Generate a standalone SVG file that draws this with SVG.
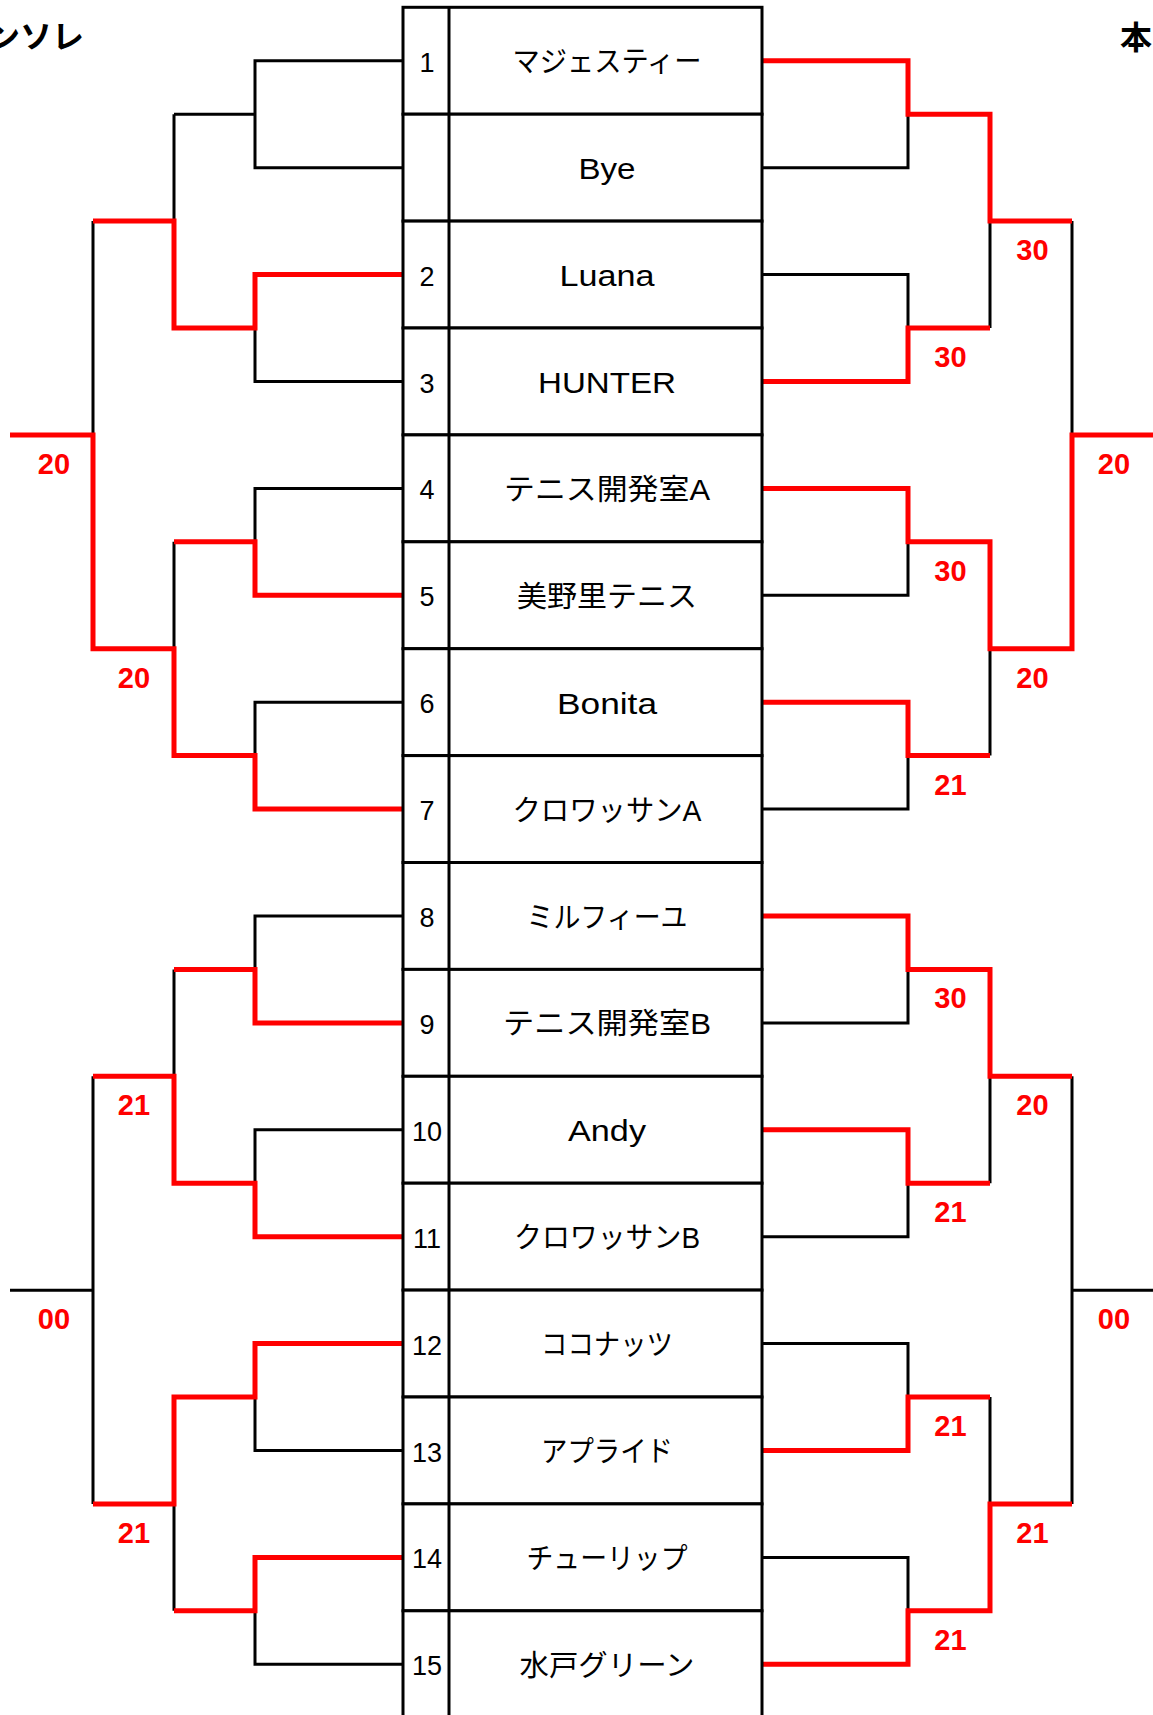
<svg xmlns="http://www.w3.org/2000/svg" width="1153" height="1715" viewBox="0 0 1153 1715">
<style>
.bg{fill:#fff}
.cell{fill:#fff;stroke:#000;stroke-width:3}
.div{stroke:#000;stroke-width:3}
.num{font-family:"Liberation Sans","Noto Sans CJK JP",sans-serif;font-size:27px;fill:#000;text-anchor:middle}
.name{font-family:"Liberation Sans","Noto Sans CJK JP",sans-serif;font-size:29px;fill:#000;text-anchor:middle}
.blk{fill:none;stroke:#000;stroke-width:3}
.red{fill:none;stroke:#f00;stroke-width:5;stroke-linejoin:miter}
.score{font-family:"Liberation Sans",sans-serif;font-weight:bold;font-size:29px;fill:#f00;text-anchor:middle}
.title{font-family:"Noto Sans CJK JP",sans-serif;font-weight:bold;font-size:32px;fill:#000}
</style>
<rect class="bg" x="0" y="0" width="1153" height="1715"/>
<text class="title" x="84" y="48" text-anchor="end">ンソレ</text>
<text class="title" x="1120" y="49">本</text>

<g id="connectors">
<path class="blk" d="M403 60.8H255V167.7H403M255 114.2H174M403 274.6H255V381.5H403M255 328H174M403 488.4H255V595.3H403M255 541.8H174M403 702.2H255V809.1H403M255 755.6H174M403 916H255V1022.9H403M255 969.4H174M403 1129.8H255V1236.7H403M255 1183.2H174M403 1343.6H255V1450.5H403M255 1397H174M403 1557.4H255V1664.3H403M255 1610.8H174M174 114.2V328M174 221.1H93M174 541.8V755.6M174 648.7H93M174 969.4V1183.2M174 1076.3H93M174 1397V1610.8M174 1503.9H93M93 221.1V648.7M93 434.9H10M93 1076.3V1503.9M93 1290.2H10"/>
<path class="blk" d="M762 60.8H908V167.7H762M908 114.2H990M762 274.6H908V381.5H762M908 328H990M762 488.4H908V595.3H762M908 541.8H990M762 702.2H908V809.1H762M908 755.6H990M762 916H908V1022.9H762M908 969.4H990M762 1129.8H908V1236.7H762M908 1183.2H990M762 1343.6H908V1450.5H762M908 1397H990M762 1557.4H908V1664.3H762M908 1610.8H990M990 114.2V328M990 221.1H1072M990 541.8V755.6M990 648.7H1072M990 969.4V1183.2M990 1076.3H1072M990 1397V1610.8M990 1503.9H1072M1072 221.1V648.7M1072 434.9H1153M1072 1076.3V1503.9M1072 1290.2H1153"/>
<path class="red" d="M403 274.6H255V328H174V221.1H93"/>
<path class="red" d="M403 595.3H255V541.8H174"/>
<path class="red" d="M403 809.1H255V755.6H174V648.7H93V434.9H10"/>
<path class="red" d="M403 1022.9H255V969.4H174"/>
<path class="red" d="M403 1236.7H255V1183.2H174V1076.3H93"/>
<path class="red" d="M403 1343.6H255V1397H174V1503.9H93"/>
<path class="red" d="M403 1557.4H255V1610.8H174"/>
<path class="red" d="M762 60.8H908V114.2H990V221.1H1072"/>
<path class="red" d="M762 381.5H908V328H990"/>
<path class="red" d="M762 488.4H908V541.8H990V648.7H1072V434.9H1153"/>
<path class="red" d="M762 702.2H908V755.6H990"/>
<path class="red" d="M762 916H908V969.4H990V1076.3H1072"/>
<path class="red" d="M762 1129.8H908V1183.2H990"/>
<path class="red" d="M762 1450.5H908V1397H990"/>
<path class="red" d="M762 1664.3H908V1610.8H990V1503.9H1072"/>
</g>

<g id="scores">
<text class="score" x="54" y="473.9">20</text>
<text class="score" x="134" y="687.7">20</text>
<text class="score" x="134" y="1115.3">21</text>
<text class="score" x="54" y="1329.2">00</text>
<text class="score" x="134" y="1542.9">21</text>
<text class="score" x="1032.5" y="260.1">30</text>
<text class="score" x="950.5" y="367">30</text>
<text class="score" x="1114" y="473.9">20</text>
<text class="score" x="950.5" y="580.8">30</text>
<text class="score" x="1032.5" y="687.7">20</text>
<text class="score" x="950.5" y="794.6">21</text>
<text class="score" x="950.5" y="1008.4">30</text>
<text class="score" x="1032.5" y="1115.3">20</text>
<text class="score" x="950.5" y="1222.2">21</text>
<text class="score" x="1114" y="1329.2">00</text>
<text class="score" x="950.5" y="1436">21</text>
<text class="score" x="1032.5" y="1542.9">21</text>
<text class="score" x="950.5" y="1649.8">21</text>
</g>

<g id="teams">
<g id="team-r0"><rect class="cell" x="403" y="7.3" width="359" height="106.9"/><line class="div" x1="449" y1="7.3" x2="449" y2="114.2"/><text class="num" x="427" y="71.8">1</text><text class="name" x="607" y="72.3" textLength="189" lengthAdjust="spacingAndGlyphs">マジェスティー</text></g>
<g id="team-r1"><rect class="cell" x="403" y="114.2" width="359" height="106.9"/><line class="div" x1="449" y1="114.2" x2="449" y2="221.1"/><text class="name" x="607" y="179.2" textLength="57" lengthAdjust="spacingAndGlyphs">Bye</text></g>
<g id="team-r2"><rect class="cell" x="403" y="221.1" width="359" height="106.9"/><line class="div" x1="449" y1="221.1" x2="449" y2="328"/><text class="num" x="427" y="285.6">2</text><text class="name" x="607" y="286.1" textLength="95" lengthAdjust="spacingAndGlyphs">Luana</text></g>
<g id="team-r3"><rect class="cell" x="403" y="328" width="359" height="106.9"/><line class="div" x1="449" y1="328" x2="449" y2="434.9"/><text class="num" x="427" y="392.5">3</text><text class="name" x="607" y="393" textLength="138" lengthAdjust="spacingAndGlyphs">HUNTER</text></g>
<g id="team-r4"><rect class="cell" x="403" y="434.9" width="359" height="106.9"/><line class="div" x1="449" y1="434.9" x2="449" y2="541.8"/><text class="num" x="427" y="499.4">4</text><text class="name" x="607" y="499.9" textLength="206" lengthAdjust="spacingAndGlyphs">テニス開発室A</text></g>
<g id="team-r5"><rect class="cell" x="403" y="541.8" width="359" height="106.9"/><line class="div" x1="449" y1="541.8" x2="449" y2="648.7"/><text class="num" x="427" y="606.3">5</text><text class="name" x="607" y="606.8" textLength="180" lengthAdjust="spacingAndGlyphs">美野里テニス</text></g>
<g id="team-r6"><rect class="cell" x="403" y="648.7" width="359" height="106.9"/><line class="div" x1="449" y1="648.7" x2="449" y2="755.6"/><text class="num" x="427" y="713.2">6</text><text class="name" x="607" y="713.7" textLength="100" lengthAdjust="spacingAndGlyphs">Bonita</text></g>
<g id="team-r7"><rect class="cell" x="403" y="755.6" width="359" height="106.9"/><line class="div" x1="449" y1="755.6" x2="449" y2="862.5"/><text class="num" x="427" y="820.1">7</text><text class="name" x="607" y="820.6" textLength="189" lengthAdjust="spacingAndGlyphs">クロワッサンA</text></g>
<g id="team-r8"><rect class="cell" x="403" y="862.5" width="359" height="106.9"/><line class="div" x1="449" y1="862.5" x2="449" y2="969.4"/><text class="num" x="427" y="927">8</text><text class="name" x="607" y="927.5" textLength="161" lengthAdjust="spacingAndGlyphs">ミルフィーユ</text></g>
<g id="team-r9"><rect class="cell" x="403" y="969.4" width="359" height="106.9"/><line class="div" x1="449" y1="969.4" x2="449" y2="1076.3"/><text class="num" x="427" y="1033.9">9</text><text class="name" x="607" y="1034.4" textLength="208" lengthAdjust="spacingAndGlyphs">テニス開発室B</text></g>
<g id="team-r10"><rect class="cell" x="403" y="1076.3" width="359" height="106.9"/><line class="div" x1="449" y1="1076.3" x2="449" y2="1183.2"/><text class="num" x="427" y="1140.8">10</text><text class="name" x="607" y="1141.3" textLength="78" lengthAdjust="spacingAndGlyphs">Andy</text></g>
<g id="team-r11"><rect class="cell" x="403" y="1183.2" width="359" height="106.9"/><line class="div" x1="449" y1="1183.2" x2="449" y2="1290.1"/><text class="num" x="427" y="1247.7">11</text><text class="name" x="607" y="1248.2" textLength="186" lengthAdjust="spacingAndGlyphs">クロワッサンB</text></g>
<g id="team-r12"><rect class="cell" x="403" y="1290.1" width="359" height="106.9"/><line class="div" x1="449" y1="1290.1" x2="449" y2="1397"/><text class="num" x="427" y="1354.6">12</text><text class="name" x="607" y="1355.1" textLength="132" lengthAdjust="spacingAndGlyphs">ココナッツ</text></g>
<g id="team-r13"><rect class="cell" x="403" y="1397" width="359" height="106.9"/><line class="div" x1="449" y1="1397" x2="449" y2="1503.9"/><text class="num" x="427" y="1461.5">13</text><text class="name" x="607" y="1462" textLength="132" lengthAdjust="spacingAndGlyphs">アプライド</text></g>
<g id="team-r14"><rect class="cell" x="403" y="1503.9" width="359" height="106.9"/><line class="div" x1="449" y1="1503.9" x2="449" y2="1610.8"/><text class="num" x="427" y="1568.4">14</text><text class="name" x="607" y="1568.9" textLength="161" lengthAdjust="spacingAndGlyphs">チューリップ</text></g>
<g id="team-r15"><rect class="cell" x="403" y="1610.8" width="359" height="112"/><line class="div" x1="449" y1="1610.8" x2="449" y2="1722.8"/><text class="num" x="427" y="1675.3">15</text><text class="name" x="607" y="1675.8" textLength="175" lengthAdjust="spacingAndGlyphs">水戸グリーン</text></g>
</g>
</svg>
